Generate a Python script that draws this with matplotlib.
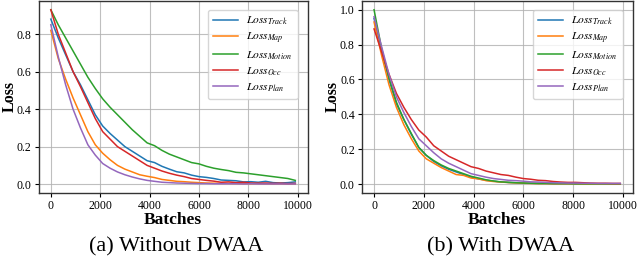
import numpy as np
import matplotlib
matplotlib.use("Agg")
import matplotlib.pyplot as plt

plt.rcParams["font.family"] = ["Liberation Serif", "DejaVu Serif"]
plt.rcParams["mathtext.fontset"] = "stix"

# ── Data ───────────────────────────────────────────────────────────────
batches = list(range(0, 10000, 300))  # 0 .. 9900

labels = [r"$Loss_{Track}$", r"$Loss_{Map}$", r"$Loss_{Motion}$",
          r"$Loss_{Occ}$", r"$Loss_{Plan}$"]
colors = ["#1f77b4", "#ff7f0e", "#2ca02c", "#d62728", "#9467bd"]

# (a) Without DWAA
track_a = [0.88, 0.78, 0.69, 0.60, 0.53, 0.45, 0.37, 0.31, 0.27, 0.235, 0.20, 0.175,
           0.15, 0.125, 0.115, 0.095, 0.08, 0.066, 0.06, 0.048, 0.04, 0.036, 0.03, 0.022,
           0.02, 0.018, 0.012, 0.013, 0.01, 0.015, 0.008, 0.006, 0.008, 0.012]
map_a = [0.82, 0.67, 0.56, 0.46, 0.37, 0.28, 0.21, 0.165, 0.13, 0.10, 0.08, 0.065,
         0.05, 0.042, 0.035, 0.025, 0.02, 0.015, 0.013, 0.01, 0.008, 0.006, 0.005, 0.004,
         0.004, 0.003, 0.003, 0.002, 0.003, 0.002, 0.002, 0.002, 0.002, 0.002]
motion_a = [0.93, 0.85, 0.78, 0.71, 0.64, 0.57, 0.51, 0.455, 0.41, 0.37, 0.33, 0.29,
            0.255, 0.22, 0.205, 0.18, 0.16, 0.145, 0.13, 0.115, 0.108, 0.095, 0.085, 0.078,
            0.072, 0.063, 0.06, 0.055, 0.05, 0.045, 0.04, 0.035, 0.03, 0.02]
occ_a = [0.93, 0.80, 0.70, 0.60, 0.52, 0.435, 0.35, 0.28, 0.24, 0.20, 0.175, 0.15,
         0.125, 0.10, 0.085, 0.07, 0.058, 0.048, 0.04, 0.03, 0.025, 0.02, 0.016, 0.01,
         0.012, 0.008, 0.01, 0.006, 0.005, 0.006, 0.004, 0.005, 0.003, 0.004]
plan_a = [0.85, 0.68, 0.53, 0.40, 0.30, 0.21, 0.155, 0.11, 0.085, 0.065, 0.05, 0.038,
          0.028, 0.02, 0.015, 0.01, 0.008, 0.006, 0.005, 0.004, 0.003, 0.003, 0.002, 0.002,
          0.002, 0.002, 0.001, 0.002, 0.001, 0.001, 0.001, 0.001, 0.001, 0.001]

# (b) With DWAA
track_b = [0.95, 0.77, 0.60, 0.46, 0.37, 0.285, 0.21, 0.165, 0.13, 0.105, 0.085, 0.07,
           0.055, 0.04, 0.03, 0.022, 0.017, 0.012, 0.01, 0.008, 0.006, 0.005, 0.004, 0.004,
           0.003, 0.003, 0.003, 0.002, 0.002, 0.002, 0.002, 0.002, 0.002, 0.002]
map_b = [0.93, 0.74, 0.57, 0.44, 0.34, 0.26, 0.19, 0.145, 0.12, 0.095, 0.075, 0.055,
         0.05, 0.035, 0.03, 0.02, 0.015, 0.012, 0.009, 0.007, 0.005, 0.004, 0.003, 0.003,
         0.002, 0.002, 0.002, 0.002, 0.001, 0.001, 0.001, 0.001, 0.001, 0.001]
motion_b = [1.00, 0.78, 0.61, 0.47, 0.37, 0.29, 0.21, 0.165, 0.135, 0.11, 0.09, 0.075,
            0.06, 0.045, 0.035, 0.025, 0.018, 0.013, 0.01, 0.008, 0.006, 0.005, 0.004, 0.004,
            0.003, 0.003, 0.003, 0.002, 0.002, 0.002, 0.002, 0.002, 0.002, 0.002]
occ_b = [0.89, 0.76, 0.63, 0.52, 0.44, 0.37, 0.31, 0.27, 0.22, 0.19, 0.16, 0.14,
         0.12, 0.10, 0.09, 0.075, 0.065, 0.055, 0.05, 0.04, 0.032, 0.028, 0.022, 0.02,
         0.015, 0.012, 0.01, 0.01, 0.008, 0.006, 0.005, 0.005, 0.004, 0.004]
plan_b = [0.96, 0.79, 0.63, 0.50, 0.41, 0.33, 0.26, 0.22, 0.18, 0.145, 0.12, 0.10,
          0.08, 0.06, 0.05, 0.04, 0.032, 0.027, 0.022, 0.02, 0.017, 0.013, 0.012, 0.01,
          0.008, 0.007, 0.006, 0.006, 0.005, 0.005, 0.004, 0.004, 0.004, 0.004]

panels = [
    ([track_a, map_a, motion_a, occ_a, plan_a], "(a) Without DWAA"),
    ([track_b, map_b, motion_b, occ_b, plan_b], "(b) With DWAA"),
]

fig = plt.figure(figsize=(6.38, 2.60), dpi=100)
axes = [fig.add_axes([0.0605, 0.259, 0.4215, 0.737]),
        fig.add_axes([0.567, 0.259, 0.4245, 0.737])]

for ax, (series, caption) in zip(axes, panels):
    for ys, lab, c in zip(series, labels, colors):
        ax.plot(batches, ys, color=c, linewidth=1.1, label=lab)
    ax.grid(True, color="#b0b0b0", linewidth=0.8, alpha=0.8)
    ax.set_axisbelow(True)
    ax.set_xticks([0, 2000, 4000, 6000, 8000, 10000])
    ax.tick_params(labelsize=8.5, length=3, pad=2)
    for sp in ax.spines.values():
        sp.set_color("#333333")
        sp.set_linewidth(1.0)
    ax.set_xlabel("Batches", fontsize=12.5, fontweight="bold")
    ax.xaxis.set_label_coords(0.5, -0.1)
    ax.set_ylabel("Loss", fontsize=11.5, fontweight="bold")
    ax.yaxis.set_label_coords(-0.076, 0.5)
    ax.legend(loc="upper right", fontsize=8.3, handlelength=2.2,
              labelspacing=0.3, borderpad=0.45, handletextpad=0.7,
              framealpha=0.8, bbox_to_anchor=(0.985, 0.985))
    pos = ax.get_position()
    fig.text((pos.x0 + pos.x1) / 2 + 0.005, 0.052, caption, ha="center",
             va="center", fontsize=16)

fig.savefig("out.png", dpi=100)
